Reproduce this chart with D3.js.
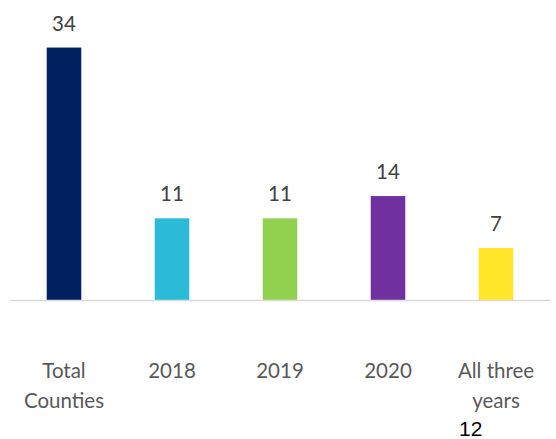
<!DOCTYPE html>
<html>
<head>
<meta charset="utf-8">
<script src="https://cdn.jsdelivr.net/npm/d3@7"></script>
<style>
  html, body { margin: 0; padding: 0; background: #fff; }
  svg { display: block; }
</style>
</head>
<body>
<svg id="chart" width="556" height="439"></svg>
<script>
// Counties counted per period
const categories = ["Total Counties", "2018", "2019", "2020", "All three years"];
const categoryLines = [["Total", "Counties"], ["2018"], ["2019"], ["2020"], ["All three", "years"]];
const counts = [34, 11, 11, 14, 7];
const barColors = ["#002060", "#2BBBD8", "#92D050", "#7030A0", "#FFE629"];
const pageNumber = "12";

const svg = d3.select("#chart");
const labelFont = "Lato, 'Open Sans', sans-serif";

const x = d3.scaleBand()
  .domain(categories)
  .range([10, 550])
  .paddingInner(0.68)
  .paddingOuter(0.34);

const y = d3.scaleLinear()
  .domain([0, 40])
  .range([300, 3]);

// bars
svg.append("g")
  .selectAll("rect")
  .data(counts)
  .join("rect")
  .attr("x", (d, i) => x(categories[i]))
  .attr("y", d => y(d))
  .attr("width", x.bandwidth())
  .attr("height", d => y(0) - y(d))
  .attr("fill", (d, i) => barColors[i]);

// baseline axis (no ticks)
const xAxis = d3.axisBottom(x).tickSize(0).tickFormat("");
const axisG = svg.append("g")
  .attr("transform", `translate(0,${y(0)})`)
  .call(xAxis);
axisG.select(".domain").attr("stroke", "#D9D9D9").attr("stroke-width", 1.5);

// value labels
svg.append("g")
  .selectAll("text")
  .data(counts)
  .join("text")
  .attr("x", (d, i) => x(categories[i]) + x.bandwidth() / 2)
  .attr("y", d => y(d) - 17)
  .attr("text-anchor", "middle")
  .attr("font-family", labelFont)
  .attr("font-size", 20.5)
  .attr("fill", "#404040")
  .text(d => d);

// category labels
const cat = svg.append("g")
  .selectAll("text")
  .data(categories)
  .join("text")
  .attr("text-anchor", "middle")
  .attr("font-family", labelFont)
  .attr("font-size", 20.5)
  .attr("fill", "#595959");

cat.each(function(c, i) {
  const t = d3.select(this);
  const cx = x(c) + x.bandwidth() / 2;
  categoryLines[i].forEach((line, j) => {
    t.append("tspan")
      .attr("x", cx)
      .attr("y", 378 + j * 30)
      .text(line);
  });
});

// page number
svg.append("text")
  .attr("x", 459)
  .attr("y", 436)
  .attr("font-family", "'Liberation Sans', Arial, sans-serif")
  .attr("font-size", 21)
  .attr("fill", "#000")
  .text(pageNumber);
</script>
</body>
</html>
